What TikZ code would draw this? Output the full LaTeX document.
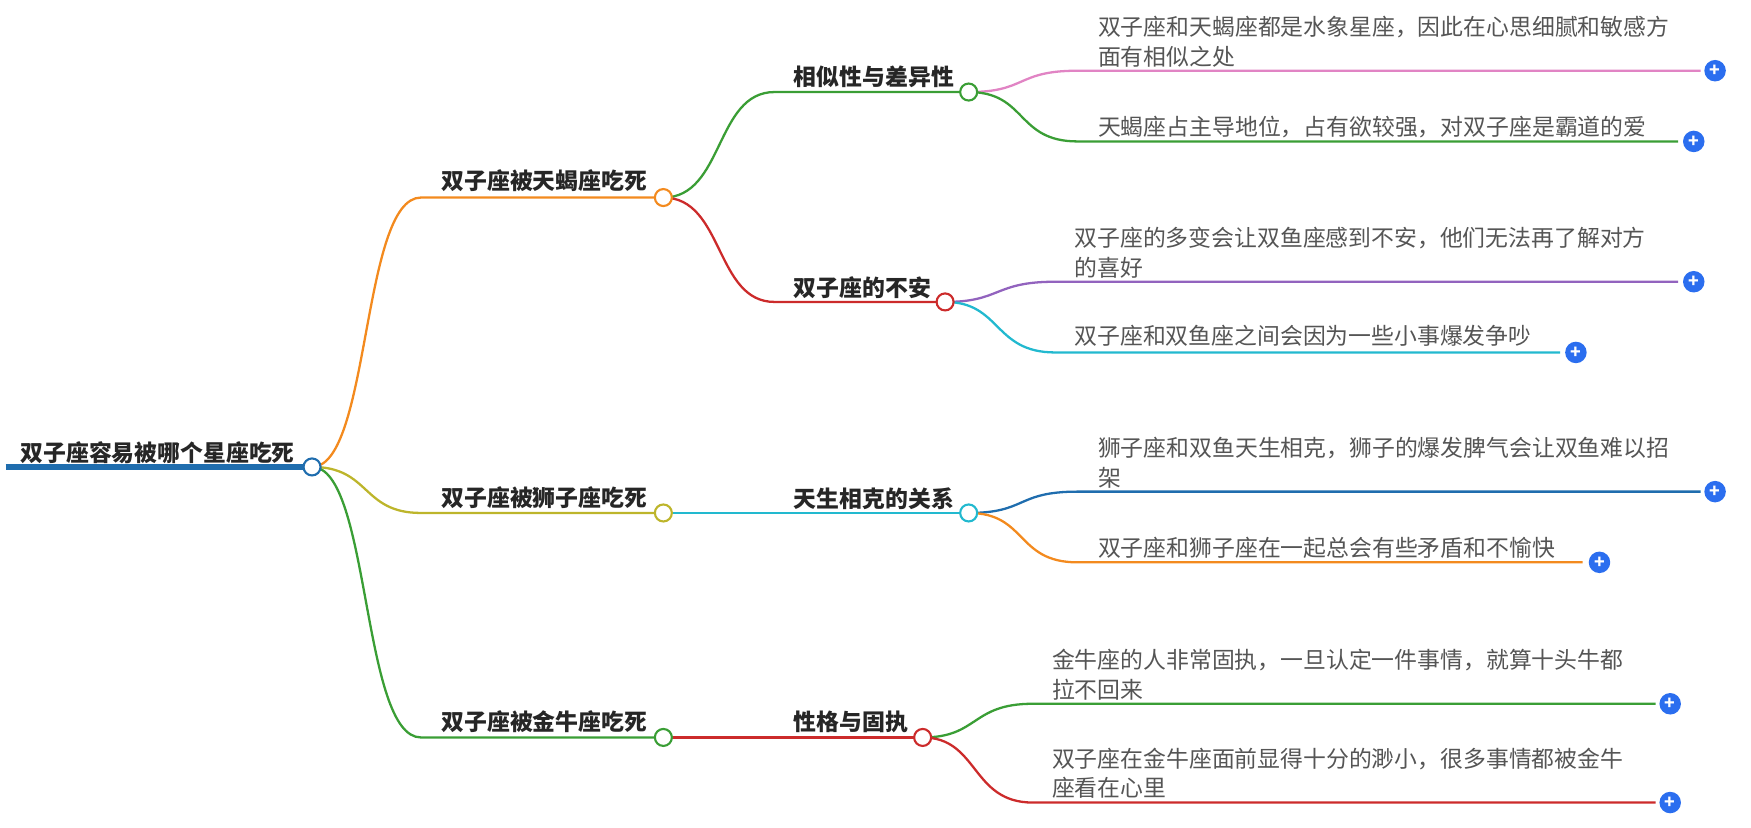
\documentclass[tikz,border=0pt]{standalone}
\usepackage{fontspec}
\setmainfont{Noto Sans CJK SC}
\definecolor{cOrange}{HTML}{F38A1E}
\definecolor{cOlive}{HTML}{BDB52B}
\definecolor{cGreen}{HTML}{3A9E35}
\definecolor{cRed}{HTML}{CC2B2B}
\definecolor{cPink}{HTML}{E184C4}
\definecolor{cPurple}{HTML}{9263BE}
\definecolor{cCyan}{HTML}{22B9CF}
\definecolor{cBlue}{HTML}{1F6DAE}
\definecolor{cPlus}{HTML}{2B6EEF}
\definecolor{cText}{HTML}{555555}
\tikzset{
  leaf/.style={anchor=base west, inner sep=0pt, text=cText, font=\fontsize{13}{17}\selectfont, align=left},
  topic/.style={anchor=base west, inner sep=0pt, text=black!85, font=\fontsize{13}{17}\selectfont\bfseries},
  knob/.style={circle, draw=#1, fill=white, line width=1.2pt, minimum size=3.4mm, inner sep=0pt},
  plus/.style={circle, fill=cPlus, minimum size=4.3mm, inner sep=0pt, text=white, font=\bfseries},
  edge/.style={draw=#1, line width=1.3pt}
}
\begin{document}
\begin{tikzpicture}[x=0.02245cm, y=-0.02245cm]
\useasboundingbox (0,0) rectangle (1560,737);

% root
\node[topic] (root) at (18,411) {双子座容易被哪个星座吃死};
\draw[edge=cBlue, line width=3pt] (5,416) -- (278,416);

% level 1
\node[topic] (t1) at (393,169) {双子座被天蝎座吃死};
\node[topic] (t2) at (393,451) {双子座被狮子座吃死};
\node[topic] (t3) at (393,651) {双子座被金牛座吃死};
\draw[edge=cOrange] (278,416) .. controls (330,416) and (322,176) .. (375,176) -- (591,176);
\draw[edge=cOlive] (278,416) .. controls (330,416) and (322,457) .. (375,457) -- (591,457);
\draw[edge=cGreen] (278,416) .. controls (330,416) and (322,657) .. (375,657) -- (591,657);

% level 2
\node[topic] (s1) at (707,76) {相似性与差异性};
\node[topic] (s2) at (707,264) {双子座的不安};
\node[topic] (s3) at (707,452) {天生相克的关系};
\node[topic] (s4) at (707,651) {性格与固执};
\draw[edge=cGreen] (591,176) .. controls (645,176) and (637,82) .. (690,82) -- (863,82);
\draw[edge=cRed] (591,176) .. controls (645,176) and (637,269) .. (690,269) -- (842,269);
\draw[edge=cCyan] (591,457) -- (863,457);
\draw[edge=cRed] (591,657) -- (822,657);

% level 3
\node[leaf] (a1) at (978,58) {双子座和天蝎座都是水象星座，因此在心思细腻和敏感方\\面有相似之处};
\node[leaf] (a2) at (978,121) {天蝎座占主导地位，占有欲较强，对双子座是霸道的爱};
\node[leaf] (b1) at (957,246) {双子座的多变会让双鱼座感到不安，他们无法再了解对方\\的喜好};
\node[leaf] (b2) at (957,307) {双子座和双鱼座之间会因为一些小事爆发争吵};
\node[leaf] (c1) at (978,433) {狮子座和双鱼天生相克，狮子的爆发脾气会让双鱼难以招\\架};
\node[leaf] (c2) at (978,496) {双子座和狮子座在一起总会有些矛盾和不愉快};
\node[leaf] (d1) at (937,622) {金牛座的人非常固执，一旦认定一件事情，就算十头牛都\\拉不回来};
\node[leaf] (d2) at (937,710) {双子座在金牛座面前显得十分的渺小，很多事情都被金牛\\座看在心里};

\draw[edge=cPink] (863,82) .. controls (915,82) and (905,63) .. (960,63) -- (1515,63);
\draw[edge=cGreen] (863,82) .. controls (915,82) and (905,126) .. (960,126) -- (1495,126);
\draw[edge=cPurple] (842,269) .. controls (892,269) and (885,251) .. (940,251) -- (1495,251);
\draw[edge=cCyan] (842,269) .. controls (892,269) and (885,314) .. (940,314) -- (1390,314);
\draw[edge=cBlue] (863,457) .. controls (915,457) and (905,438) .. (960,438) -- (1515,438);
\draw[edge=cOrange] (863,457) .. controls (915,457) and (905,501) .. (960,501) -- (1410,501);
\draw[edge=cGreen] (822,657) .. controls (872,657) and (865,627) .. (920,627) -- (1475,627);
\draw[edge=cRed] (822,657) .. controls (872,657) and (865,715) .. (920,715) -- (1475,715);

% knobs
\node[knob=cBlue] (k0) at (278,416) {};
\node[knob=cOrange] (k1) at (591,176) {};
\node[knob=cOlive] (k2) at (591,457) {};
\node[knob=cGreen] (k3) at (591,657) {};
\node[knob=cGreen] (k4) at (863,82) {};
\node[knob=cRed] (k5) at (842,269) {};
\node[knob=cCyan] (k6) at (863,457) {};
\node[knob=cRed] (k7) at (822,657) {};

% plus buttons
\foreach \px/\py [count=\i] in {1528/63, 1509/126, 1509/251, 1404/314, 1528/438, 1425/501, 1488/627, 1488/715}
  \node[plus] (p\i) at (\px,\py) {+};
\end{tikzpicture}
\end{document}
